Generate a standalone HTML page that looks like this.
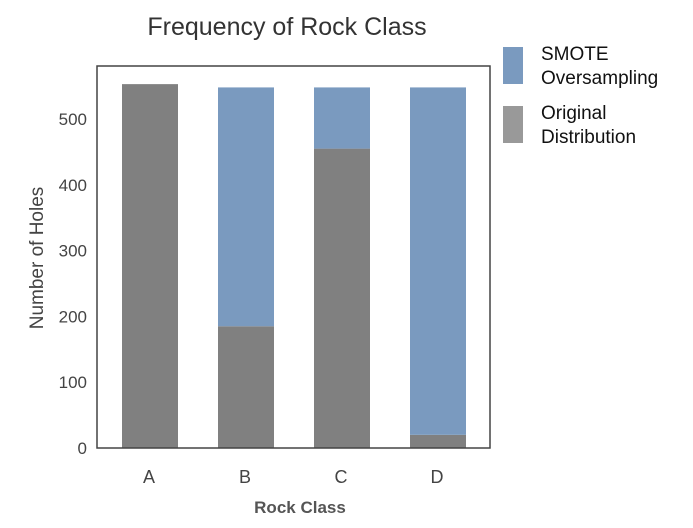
<!DOCTYPE html>
<html><head><meta charset="utf-8"><style>
body{margin:0;background:#fff;}
svg{display:block;font-family:"Liberation Sans",sans-serif;}
</style></head><body>
<svg width="693" height="528">
<g id="plot"></g>
<text x="287" y="35" font-size="25" fill="#333" text-anchor="middle">Frequency of Rock Class</text>
<text x="300" y="513" font-size="17" font-weight="bold" fill="#555" text-anchor="middle">Rock Class</text>
<text transform="translate(43,258) rotate(-90)" font-size="19" fill="#444" text-anchor="middle">Number of Holes</text>
<g>
<rect x="503" y="47" width="20" height="37" fill="#7a9abf"/>
<text x="541" y="60" font-size="19" fill="#111"><tspan x="541">SMOTE</tspan><tspan x="541" dy="24">Oversampling</tspan></text>
<rect x="503" y="106" width="20" height="37" fill="#999"/>
<text x="541" y="119" font-size="19" fill="#111"><tspan x="541">Original</tspan><tspan x="541" dy="24">Distribution</tspan></text>
</g>
</svg>
<script>
const categories=["A","B","C","D"];
const originalValues=[553,185,455,20];
const smoteValues=[0,363,93,528];
const yTicks=[0,100,200,300,400,500];
const NS="http://www.w3.org/2000/svg";
const g=document.getElementById("plot");
const L=97,R=490,T=66,B=448;
const y=v=>B-v*0.658;
const xc=i=>150+i*96;
const bw=56;
function mk(t,a){const e=document.createElementNS(NS,t);for(const k in a)e.setAttribute(k,a[k]);g.appendChild(e);return e;}
categories.forEach((c,i)=>{
 const o=mk("rect",{x:xc(i)-bw/2,y:y(originalValues[i]),width:bw,height:B-y(originalValues[i]),fill:"#808080"});
 
 
 if(smoteValues[i]>0){
  const top=originalValues[i]+smoteValues[i];
  const s=mk("rect",{x:xc(i)-bw/2,y:y(top),width:bw,height:y(originalValues[i])-y(top),fill:"#7a9abf"});
  
  
 }
 const t=mk("text",{x:xc(i)-1,y:483,"font-size":18,fill:"#444","text-anchor":"middle"});
 t.textContent=c;
 
 
});
yTicks.forEach(v=>{
 const t=mk("text",{x:87,y:y(v)+6,"font-size":17,fill:"#444","text-anchor":"end"});
 t.textContent=v;
 
 
});
const f=mk("rect",{x:L,y:T,width:R-L,height:B-T,fill:"none",stroke:"#444","stroke-width":1.5});


</script>
</body></html>
